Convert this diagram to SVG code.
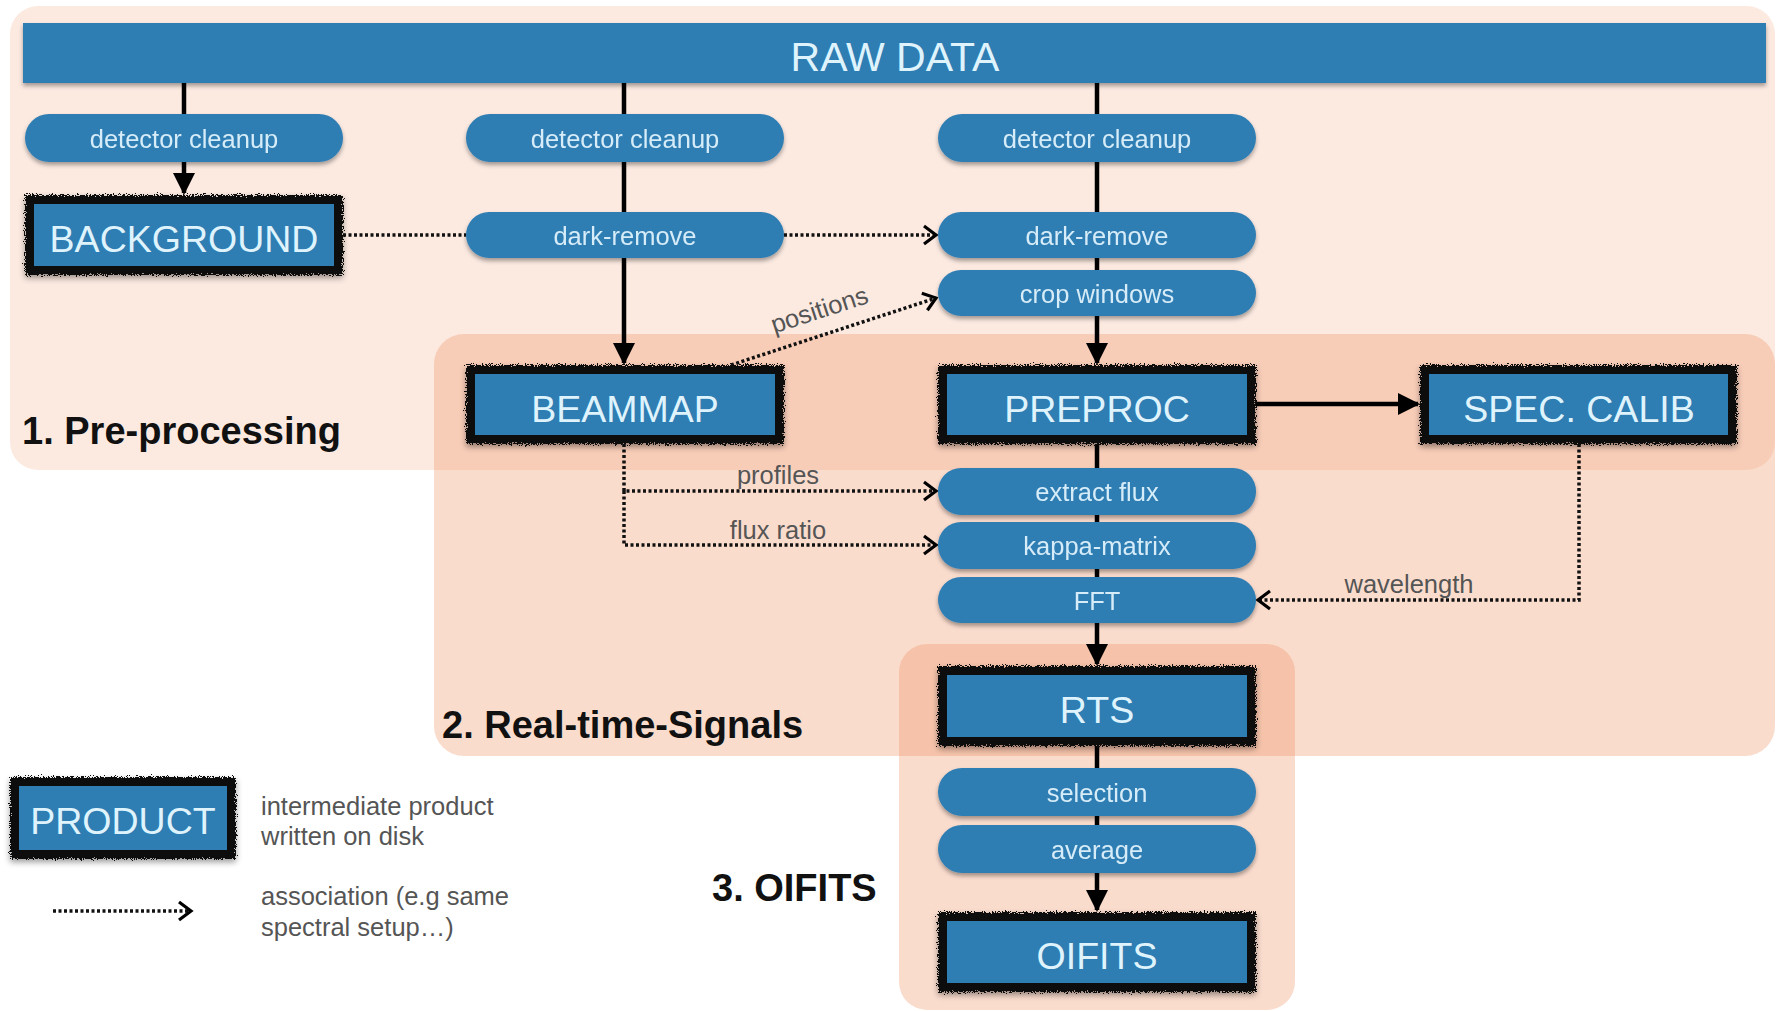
<svg xmlns="http://www.w3.org/2000/svg" width="1777" height="1011" viewBox="0 0 1777 1011">
<style>
.region{fill:#ef8a5a}
.r1{fill-opacity:0.18}
.r2{fill-opacity:0.3}
.r3{fill-opacity:0.3}
.pill{fill:#2e7db3}
.blue{fill:#2e7db3}
.edge{fill:#0a0a0a}
.ptxt{font-family:"Liberation Sans",Arial,sans-serif;font-size:25.5px;fill:#d6ecf8;text-anchor:middle}
.btxt{font-family:"Liberation Sans",Arial,sans-serif;font-size:37.5px;fill:#dff3fd;text-anchor:middle}
.rtxt{font-family:"Liberation Sans",Arial,sans-serif;font-size:38px;font-weight:bold;fill:#111}
.ltxt{font-family:"Liberation Sans",Arial,sans-serif;font-size:25.5px;fill:#555}
.solid{stroke:#000;stroke-width:4.5;fill:none}
.dot{stroke:#111;stroke-width:3.5;stroke-dasharray:3 2.5;fill:none}
</style>
<defs>
<filter id="rough" x="-10%" y="-20%" width="120%" height="140%">
<feTurbulence type="fractalNoise" baseFrequency="0.9" numOctaves="2" seed="3" result="n"/>
<feDisplacementMap in="SourceGraphic" in2="n" scale="8" xChannelSelector="R" yChannelSelector="G" result="d"/>
<feGaussianBlur in="SourceAlpha" stdDeviation="3" result="b"/>
<feOffset in="b" dy="3" result="o"/>
<feComponentTransfer in="o" result="s"><feFuncA type="linear" slope="0.4"/></feComponentTransfer>
<feMerge><feMergeNode in="s"/><feMergeNode in="d"/></feMerge>
</filter>
<filter id="sh" x="-10%" y="-20%" width="120%" height="150%">
<feDropShadow dx="0" dy="3" stdDeviation="2" flood-color="#000" flood-opacity="0.35"/>
</filter>
<marker id="ah" markerWidth="24" markerHeight="24" refX="20" refY="12" orient="auto" markerUnits="userSpaceOnUse">
<path d="M0,1 L22,12 L0,23 z" fill="#000"/>
</marker>
<marker id="oh" markerWidth="18" markerHeight="22" refX="14" refY="11" orient="auto" markerUnits="userSpaceOnUse">
<path d="M2,2 L14,11 L2,20" fill="none" stroke="#000" stroke-width="3.2"/>
</marker>
</defs>
<rect width="1777" height="1011" fill="#fff"/>

<g id="regions">
<rect id="region-preprocessing" class="region r1" x="10" y="6" width="1765" height="464" rx="28"/>
<rect id="region-rts" class="region r2" x="434" y="334" width="1341" height="422" rx="30"/>
<rect id="region-oifits" class="region r3" x="899" y="644" width="396" height="366" rx="28"/>
<text class="rtxt" x="22" y="444">1. Pre-processing</text>
<text class="rtxt" x="442" y="738">2. Real-time-Signals</text>
<text class="rtxt" x="712" y="901">3. OIFITS</text>
</g>

<g id="raw-data">
<rect class="blue" x="23" y="23" width="1743" height="60" filter="url(#sh)"/>
<text class="btxt" x="895" y="71" style="font-size:41px">RAW DATA</text>
</g>

<g id="connectors">
<line class="solid" x1="184" y1="83" x2="184" y2="193" marker-end="url(#ah)"/>
<line class="solid" x1="624" y1="83" x2="624" y2="363" marker-end="url(#ah)"/>
<line class="solid" x1="1097" y1="83" x2="1097" y2="363" marker-end="url(#ah)"/>
<line class="solid" x1="1097" y1="444" x2="1097" y2="664" marker-end="url(#ah)"/>
<line class="solid" x1="1097" y1="746" x2="1097" y2="910" marker-end="url(#ah)"/>
<line class="solid" x1="1256" y1="404" x2="1418" y2="404" marker-end="url(#ah)"/>
<line class="dot" x1="343" y1="235" x2="466" y2="235"/>
<line class="dot" x1="784" y1="235" x2="936" y2="235" marker-end="url(#oh)"/>
<line class="dot" x1="731" y1="365" x2="936" y2="298" marker-end="url(#oh)"/>
<text class="ltxt" x="822" y="318" text-anchor="middle" transform="rotate(-18 822 318)">positions</text>
<polyline class="dot" points="624,444 624,491 936,491" marker-end="url(#oh)"/>
<text class="ltxt" x="778" y="484" text-anchor="middle">profiles</text>
<polyline class="dot" points="624,491 624,545 936,545" marker-end="url(#oh)"/>
<text class="ltxt" x="778" y="539" text-anchor="middle">flux ratio</text>
<polyline class="dot" points="1579,444 1579,600 1258,600" marker-end="url(#oh)"/>
<text class="ltxt" x="1409" y="593" text-anchor="middle">wavelength</text>
</g>

<g id="det-cleanup-1" filter="url(#sh)"><rect class="pill" x="25" y="114" width="318" height="48" rx="24"/><text class="ptxt" x="184" y="148">detector cleanup</text></g>
<g id="det-cleanup-2" filter="url(#sh)"><rect class="pill" x="466" y="114" width="318" height="48" rx="24"/><text class="ptxt" x="625" y="148">detector cleanup</text></g>
<g id="det-cleanup-3" filter="url(#sh)"><rect class="pill" x="938" y="114" width="318" height="48" rx="24"/><text class="ptxt" x="1097" y="148">detector cleanup</text></g>
<g id="dark-remove-1" filter="url(#sh)"><rect class="pill" x="466" y="212" width="318" height="46" rx="23"/><text class="ptxt" x="625" y="245">dark-remove</text></g>
<g id="dark-remove-2" filter="url(#sh)"><rect class="pill" x="938" y="212" width="318" height="46" rx="23"/><text class="ptxt" x="1097" y="245">dark-remove</text></g>
<g id="crop-windows" filter="url(#sh)"><rect class="pill" x="938" y="270" width="318" height="46" rx="23"/><text class="ptxt" x="1097" y="303">crop windows</text></g>
<g id="extract-flux" filter="url(#sh)"><rect class="pill" x="938" y="468" width="318" height="47" rx="23"/><text class="ptxt" x="1097" y="501">extract flux</text></g>
<g id="kappa-matrix" filter="url(#sh)"><rect class="pill" x="938" y="522" width="318" height="47" rx="23"/><text class="ptxt" x="1097" y="555">kappa-matrix</text></g>
<g id="fft" filter="url(#sh)"><rect class="pill" x="938" y="577" width="318" height="46" rx="23"/><text class="ptxt" x="1097" y="610">FFT</text></g>
<g id="selection" filter="url(#sh)"><rect class="pill" x="938" y="768" width="318" height="48" rx="24"/><text class="ptxt" x="1097" y="802">selection</text></g>
<g id="average" filter="url(#sh)"><rect class="pill" x="938" y="825" width="318" height="48" rx="24"/><text class="ptxt" x="1097" y="859">average</text></g>

<g id="background"><rect class="edge" x="25" y="195" width="318" height="80" filter="url(#rough)"/><rect class="blue" x="34" y="204" width="300" height="62"/><text class="btxt" x="184" y="252">BACKGROUND</text></g>
<g id="beammap"><rect class="edge" x="466" y="365" width="318" height="79" filter="url(#rough)"/><rect class="blue" x="475" y="374" width="300" height="61"/><text class="btxt" x="625" y="422">BEAMMAP</text></g>
<g id="preproc"><rect class="edge" x="938" y="365" width="318" height="79" filter="url(#rough)"/><rect class="blue" x="947" y="374" width="300" height="61"/><text class="btxt" x="1097" y="422">PREPROC</text></g>
<g id="spec-calib"><rect class="edge" x="1420" y="365" width="317" height="79" filter="url(#rough)"/><rect class="blue" x="1429" y="374" width="299" height="61"/><text class="btxt" x="1579" y="422">SPEC. CALIB</text></g>
<g id="rts"><rect class="edge" x="938" y="666" width="318" height="80" filter="url(#rough)"/><rect class="blue" x="947" y="675" width="300" height="62"/><text class="btxt" x="1097" y="723">RTS</text></g>
<g id="oifits"><rect class="edge" x="938" y="912" width="318" height="80" filter="url(#rough)"/><rect class="blue" x="947" y="921" width="300" height="62"/><text class="btxt" x="1097" y="969">OIFITS</text></g>

<g id="legend">
<g id="legend-product"><rect class="edge" x="10" y="777" width="226" height="82" filter="url(#rough)"/><rect class="blue" x="19" y="786" width="208" height="64"/><text class="btxt" x="123" y="834">PRODUCT</text></g>
<text class="ltxt" x="261" y="815">intermediate product</text>
<text class="ltxt" x="261" y="845">written on disk</text>
<line class="dot" x1="53" y1="911" x2="191" y2="911" marker-end="url(#oh)"/>
<text class="ltxt" x="261" y="905">association (e.g same</text>
<text class="ltxt" x="261" y="936">spectral setup…)</text>
</g>
</svg>
